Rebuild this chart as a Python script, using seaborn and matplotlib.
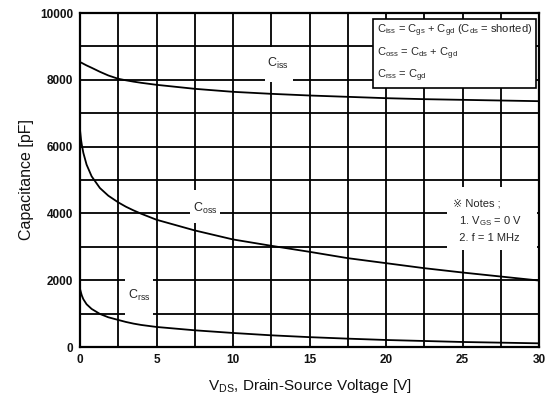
"""
Capacitance characteristics vs drain-source voltage.
"""

import pandas as pd
import matplotlib
matplotlib.use("Agg")
import matplotlib.pyplot as plt
from matplotlib.patches import Rectangle
import seaborn as sns

# Data
vds = [0, 0.07, 0.12, 0.22, 0.43, 0.76, 1.3, 1.85, 2.5, 3, 3.5, 4, 5, 7.5, 10, 12.5, 15,
       17.5, 20, 22.5, 25, 27.5, 30]
ciss = [8530, 8515, 8505, 8480, 8430, 8360, 8240, 8130, 8030, 7985, 7945, 7910, 7850,
        7730, 7640, 7580, 7530, 7490, 7450, 7420, 7400, 7380, 7360]
coss = [6500, 6200, 6050, 5810, 5460, 5110, 4760, 4530, 4330, 4200, 4090, 3990, 3810,
        3490, 3220, 3030, 2850, 2660, 2510, 2360, 2230, 2110, 1990]
crss = [1740, 1620, 1540, 1430, 1280, 1140, 990, 890, 810, 750, 700, 660, 600,
        500, 420, 350, 295, 250, 210, 180, 150, 130, 110]

x_ticks = [0, 5, 10, 15, 20, 25, 30]
y_ticks = [0, 2000, 4000, 6000, 8000, 10000]

legend_lines = [
    r"C$_{\rm iss}$ = C$_{\rm gs}$ + C$_{\rm gd}$ (C$_{\rm ds}$ = shorted)",
    r"C$_{\rm oss}$ = C$_{\rm ds}$ + C$_{\rm gd}$",
    r"C$_{\rm rss}$ = C$_{\rm gd}$",
]
notes_lines = ["\u203b Notes ;", r"  1. V$_{\rm GS}$ = 0 V", "  2. f = 1 MHz"]


def main():
    df = pd.concat([
        pd.DataFrame({"vds": vds, "cap": ciss, "curve": "Ciss"}),
        pd.DataFrame({"vds": vds, "cap": coss, "curve": "Coss"}),
        pd.DataFrame({"vds": vds, "cap": crss, "curve": "Crss"}),
    ])

    sns.set_theme(style="white")
    plt.rcParams["font.family"] = ["Liberation Sans", "DejaVu Sans"]
    plt.rcParams["mathtext.fontset"] = "custom"
    plt.rcParams["mathtext.rm"] = "Liberation Sans"
    plt.rcParams["mathtext.it"] = "Liberation Sans"

    fig = plt.figure(figsize=(5.55, 4.05), dpi=100)
    ax = fig.add_axes([80 / 555, 58 / 405, 459 / 555, 334 / 405])

    sns.lineplot(data=df, x="vds", y="cap", units="curve", estimator=None,
                 color="black", linewidth=1.3, sort=False, ax=ax, zorder=3)

    ax.set_xlim(0, 30)
    ax.set_ylim(0, 10000)
    ax.set_xticks(x_ticks)
    ax.set_yticks(y_ticks)
    ax.set_xticks([2.5, 7.5, 12.5, 17.5, 22.5, 27.5], minor=True)
    ax.set_yticks([1000, 3000, 5000, 7000, 9000], minor=True)
    ax.grid(True, which="both", color="black", linewidth=1.3)
    ax.set_axisbelow(True)
    ax.tick_params(axis="both", which="both", length=0, labelsize=8.5, pad=5, colors="#111111")
    for lab in ax.get_xticklabels() + ax.get_yticklabels():
        lab.set_fontweight("bold")
    for s in ax.spines.values():
        s.set_color("black")
        s.set_linewidth(1.6)
        s.set_zorder(5)

    ax.set_xlabel(r"V$_{\rm DS}$, Drain-Source Voltage [V]", fontsize=11, color="#111111", labelpad=8)
    ax.set_ylabel("Capacitance [pF]", fontsize=11.5, color="#111111", labelpad=4)

    # white gaps in the grid behind the labels
    for (x0, x1, y0, y1) in [(12.1, 13.9, 7930, 8980), (7.2, 9.15, 3710, 4700),
                             (2.94, 4.77, 950, 2050), (24.0, 29.9, 2900, 4790)]:
        ax.add_patch(Rectangle((x0, y0), x1 - x0, y1 - y0, facecolor="white",
                               edgecolor="none", zorder=2))

    # curve labels
    ax.text(12.9, 8500, r"C$_{\rm iss}$", fontsize=9, ha="center", va="center", zorder=4)
    ax.text(8.2, 4150, r"C$_{\rm oss}$", fontsize=9, ha="center", va="center", zorder=4)
    ax.text(3.9, 1530, r"C$_{\rm rss}$", fontsize=9, ha="center", va="center", zorder=4)

    # formula box
    ax.text(19.4, 9700, "\n".join(legend_lines), fontsize=8, ha="left", va="top",
            linespacing=1.55, zorder=6,
            bbox=dict(facecolor="white", edgecolor="black", linewidth=1.2, boxstyle="square,pad=0.35"))

    # notes
    ax.text(24.4, 3780, "\n".join(notes_lines), fontsize=8, ha="left", va="center",
            linespacing=1.6, zorder=4)

    fig.savefig("out.png", dpi=100)


if __name__ == "__main__":
    main()
